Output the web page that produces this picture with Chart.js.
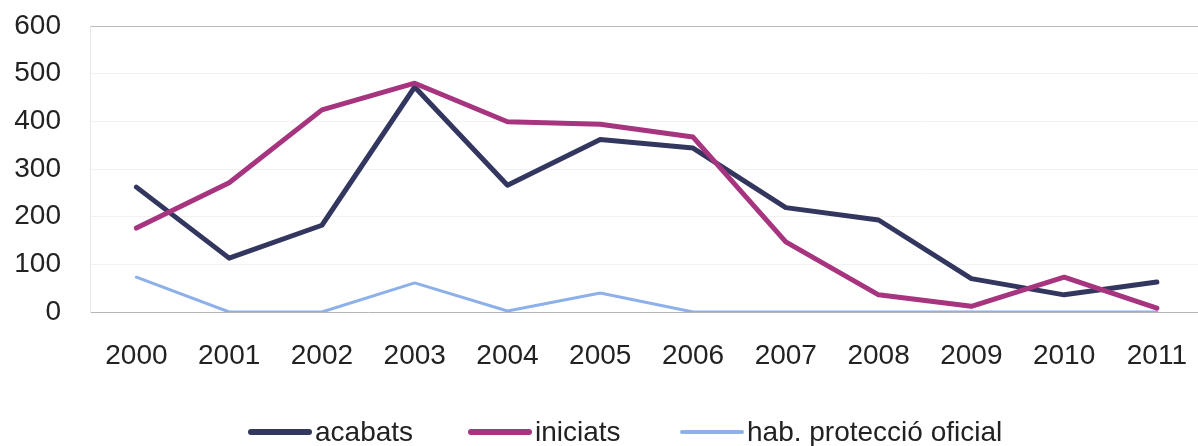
<!DOCTYPE html>
<html>
<head>
<meta charset="utf-8">
<script src="https://cdn.jsdelivr.net/npm/chart.js@4"></script>
<style>
    html, body { margin: 0; padding: 0; background: #fff; overflow: hidden; }
    #wrap { position: relative; width: 1214px; height: 446px; }
    .legend-item { position: absolute; top: 416px; display: flex; align-items: center; font: 28px "Liberation Sans", Arial, sans-serif; color: #222; white-space: nowrap; }
    .legend-item span.swatch { display: inline-block; width: 64px; height: 6px; border-radius: 3px; margin-right: 3px; }
</style>
</head>
<body>
<div id="wrap">
    <canvas id="lineChart" width="1214" height="446"></canvas>
    <div id="legend"></div>
</div>
<script>
const years = ['2000', '2001', '2002', '2003', '2004', '2005', '2006', '2007', '2008', '2009', '2010', '2011'];
const acabats = [262, 113, 182, 472, 266, 362, 344, 219, 193, 70, 36, 63];
const iniciats = [176, 271, 424, 480, 399, 394, 367, 147, 36, 12, 73, 8];
const proteccio = [73, 0, 0, 61, 2, 40, 0, 0, 0, 0, 0, 0];
const yTicks = [0, 100, 200, 300, 400, 500, 600];

const seriesNames = ['acabats', 'iniciats', 'hab. protecció oficial'];
const seriesColors = ['#33375f', '#a7347f', '#8db0ea'];
const legendLeft = [248, 468, 680];

document.addEventListener("DOMContentLoaded", () => {
    renderLegend();
    renderChart();
});

function renderLegend() {
    const legend = document.getElementById('legend');
    seriesNames.forEach((name, i) => {
        const item = document.createElement('div');
        item.className = 'legend-item';
        item.style.left = legendLeft[i] + 'px';
        const swatch = document.createElement('span');
        swatch.className = 'swatch';
        swatch.style.background = seriesColors[i];
        if (i === 2) swatch.style.height = '4px';
        item.appendChild(swatch);
        item.appendChild(document.createTextNode(name));
        legend.appendChild(item);
    });
}

function renderChart() {
    const ctx = document.getElementById('lineChart').getContext('2d');
    const font = { family: '"Liberation Sans", Arial, sans-serif', size: 28 };

    new Chart(ctx, {
        type: 'line',
        data: {
            labels: years,
            datasets: [
                { label: seriesNames[2], data: proteccio, borderColor: seriesColors[2], borderWidth: 3, order: 3 },
                { label: seriesNames[0], data: acabats, borderColor: seriesColors[0], borderWidth: 5, order: 2 },
                { label: seriesNames[1], data: iniciats, borderColor: seriesColors[1], borderWidth: 5, order: 1 }
            ]
        },
        options: {
            responsive: false,
            animation: false,
            layout: { padding: { top: 26, right: 0, left: 0, bottom: 0 } },
            elements: {
                point: { radius: 0 },
                line: { tension: 0, borderJoinStyle: 'round', borderCapStyle: 'round' }
            },
            plugins: {
                legend: { display: false },
                tooltip: { enabled: false }
            },
            scales: {
                x: {
                    offset: true,
                    grid: { display: false, drawTicks: false },
                    border: { display: true, color: '#b5b5b5', width: 1 },
                    ticks: { font: font, color: '#222', padding: 27, maxRotation: 0, autoSkip: false },
                    afterFit: scale => { scale.height = 134; }
                },
                y: {
                    min: 0,
                    max: 600,
                    afterBuildTicks: scale => { scale.ticks = yTicks.map(v => ({ value: v })); },
                    grid: {
                        drawTicks: false,
                        color: c => (c.tick.value === 600 ? '#b8b8b8' : (c.tick.value === 0 ? 'rgba(0,0,0,0)' : '#f2f2f2'))
                    },
                    border: { display: true, color: '#e6e6e6' },
                    ticks: { font: font, color: '#222', padding: 29 },
                    afterFit: scale => {
                        scale.width = 90;
                        scale.paddingTop = 0;
                        scale.paddingBottom = 0;
                    }
                }
            }
        }
    });
}
</script>
</body>
</html>
